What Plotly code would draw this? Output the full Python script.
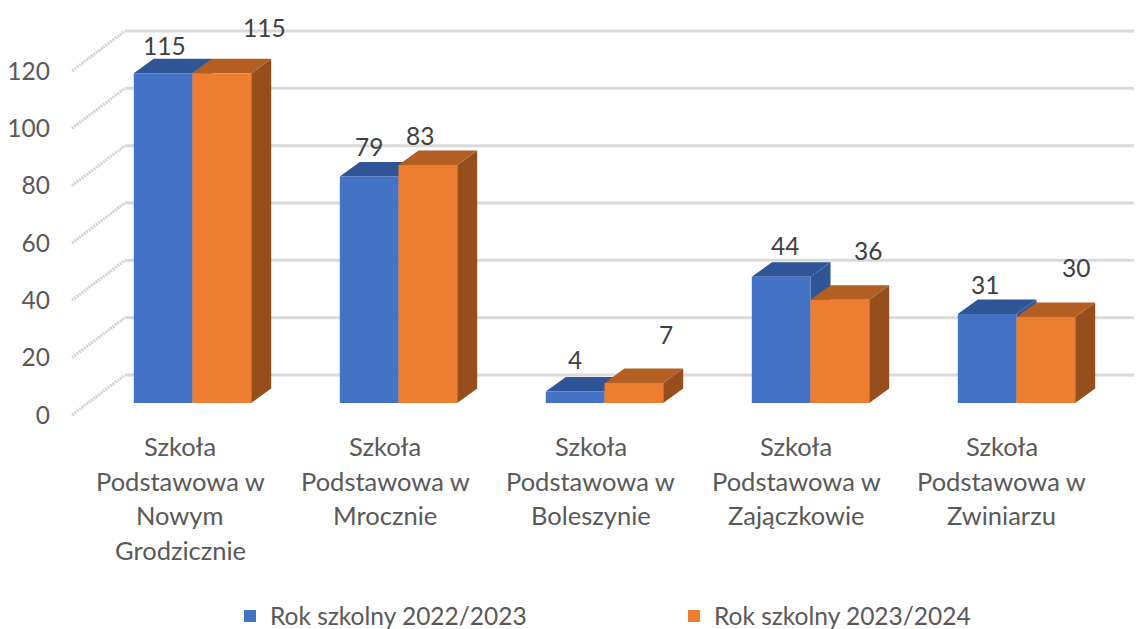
import plotly.graph_objects as go

PAGE = 8  # the page's body margin
W, H = 1142 - PAGE, 629 - PAGE
category_lines = [
    ["Szkoła", "Podstawowa w", "Nowym", "Grodzicznie"],
    ["Szkoła", "Podstawowa w", "Mrocznie"],
    ["Szkoła", "Podstawowa w", "Boleszynie"],
    ["Szkoła", "Podstawowa w", "Zajączkowie"],
    ["Szkoła", "Podstawowa w", "Zwiniarzu"],
]
series_names = ["Rok szkolny 2022/2023", "Rok szkolny 2023/2024"]
values_a = [115, 79, 4, 44, 31]
values_b = [115, 83, 7, 36, 30]
y_ticks = [0, 20, 40, 60, 80, 100, 120]

# label offsets in px, relative to the bar's top centre (as placed in the picture)
label_dx_a = [1, 0, 0, 4, -2]
label_dy_a = [28, 30, 32, 31, 30]
label_dx_b = [43, -8, 32, 28, 30]
label_dy_b = [46, 30, 48, 49, 49]

# geometry
PX_X = 206.0
X0 = 192.5 - PAGE
PX_Y = 2.867
FLOOR = 403 - PAGE
PLOT_H = 430 - PAGE
BAR_W = 58.7 / PX_X
DX = 20 / PX_X
DY = 14.5 / PX_Y
WALL_FRONT_DY = -12 / PX_Y
WALL_BACK_DY = 28 / PX_Y
WALL_X0 = (72 - PAGE - X0) / PX_X
WALL_X1 = (125 - PAGE - X0) / PX_X
LABEL_X0 = (180 - 192.5) / PX_X
LABEL_STEP = 205.4 / PX_X
x_range = [(0 - X0) / PX_X, (W - X0) / PX_X]
y_range = [(FLOOR - PLOT_H) / PX_Y, FLOOR / PX_Y]
y2_range = [(FLOOR + 12 - PLOT_H) / PX_Y, (FLOOR + 12) / PX_Y]

FONT = "Lato"
idx = list(range(len(values_a)))
fig = go.Figure()
fig.add_bar(x=idx, y=values_a, name=series_names[0], marker=dict(color="#4472C4", line=dict(width=0)),
            hovertext=[" ".join(c) for c in category_lines])
fig.add_bar(x=idx, y=values_b, name=series_names[1], marker=dict(color="#ED7D31", line=dict(width=0)),
            hovertext=[" ".join(c) for c in category_lines])
fig.add_scatter(x=[None], y=[None], yaxis="y2", showlegend=False, hoverinfo="skip")

shapes = []
for t in y_ticks:
    shapes.append(dict(type="line", xref="x", yref="y", layer="between",
                       x0=WALL_X1, x1=x_range[1], y0=t + WALL_BACK_DY, y1=t + WALL_BACK_DY,
                       line=dict(color="#DADADA", width=3)))
    shapes.append(dict(type="line", xref="x", yref="y", layer="between",
                       x0=WALL_X0, x1=WALL_X1, y0=t + WALL_FRONT_DY, y1=t + WALL_BACK_DY,
                       line=dict(color="#D2D2D2", width=3, dash="2px,1px")))


def poly(pts, color):
    path = "M" + " L".join(f"{a},{b}" for a, b in pts) + " Z"
    return dict(type="path", path=path, xref="x", yref="y", layer="between",
                fillcolor=color, line=dict(width=0))


for i in idx:
    for left, v, top_c, side_c in [
        (i - BAR_W, values_a[i], "#2F5597", "#2F5597"),
        (i, values_b[i], "#B35E22", "#964F1C"),
    ]:
        right = left + BAR_W
        shapes.append(poly([(right, 0), (right + DX, DY), (right + DX, v + DY), (right, v)], side_c))
        shapes.append(poly([(left, v), (right, v), (right + DX, v + DY), (left + DX, v + DY)], top_c))

annotations = []
for i in idx:
    for off, v, dx, dy in [
        (-BAR_W / 2, values_a[i], label_dx_a[i], label_dy_a[i]),
        (BAR_W / 2, values_b[i], label_dx_b[i], label_dy_b[i]),
    ]:
        annotations.append(dict(x=i + off, y=v, xref="x", yref="y", text=str(v), showarrow=False,
                                xshift=dx, yshift=dy, xanchor="center", yanchor="middle",
                                font=dict(family=FONT, size=24.5, color="#404040")))
    for k, line in enumerate(category_lines[i]):
        annotations.append(dict(x=LABEL_X0 + LABEL_STEP * i, y=1 - (446 - PAGE + 34.5 * k) / H, xref="x", yref="paper",
                                text=line, showarrow=False, xanchor="center", yanchor="middle",
                                font=dict(family=FONT, size=25.5, color="#595959")))

fig.update_layout(
    width=W, height=H, margin=dict(l=0, r=0, t=0, b=0, autoexpand=False), autosize=False,
    paper_bgcolor="white", plot_bgcolor="white",
    barmode="group", bargap=1 - 2 * BAR_W, bargroupgap=0,
    xaxis=dict(range=x_range, visible=False, domain=[0, 1], fixedrange=True),
    yaxis=dict(range=y_range, domain=[1 - PLOT_H / H, 1], visible=False, fixedrange=True),
    yaxis2=dict(range=y2_range, overlaying="y", anchor="free", position=42 / W, side="left",
                tickvals=y_ticks, showgrid=False, zeroline=False, showline=False, ticks="",
                tickfont=dict(family=FONT, size=24.5, color="#595959"), fixedrange=True),
    legend=dict(orientation="h", x=(230 - PAGE) / W, y=1 - (616 - PAGE) / H, xanchor="left", yanchor="middle",
                entrywidth=399, entrywidthmode="pixels", bgcolor="rgba(0,0,0,0)",
                font=dict(family=FONT, size=24.5, color="#595959")),
    shapes=shapes, annotations=annotations, showlegend=True,
)
fig.write_html("out.html")
